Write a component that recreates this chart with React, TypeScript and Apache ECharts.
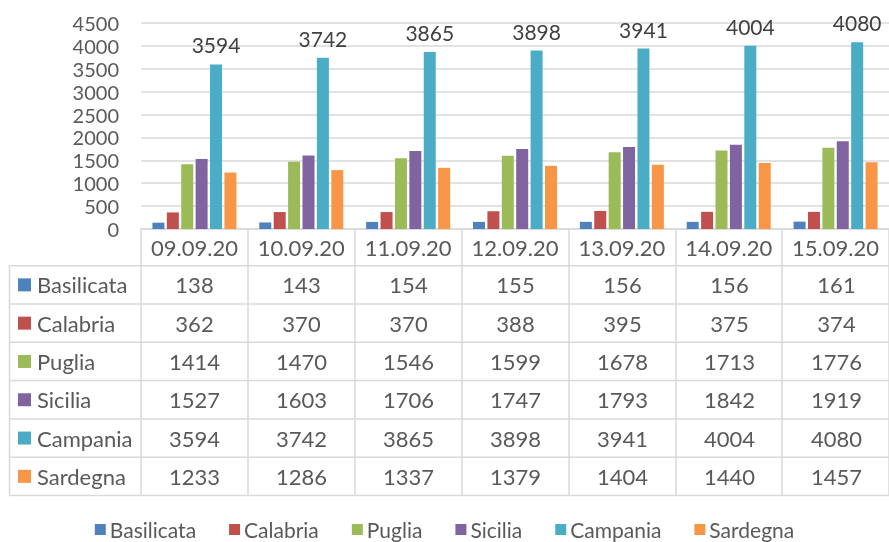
import React, { useEffect, useRef } from "react";
import * as echarts from "echarts";

const categories = ["09.09.20", "10.09.20", "11.09.20", "12.09.20", "13.09.20", "14.09.20", "15.09.20"];
const seriesNames = ["Basilicata", "Calabria", "Puglia", "Sicilia", "Campania", "Sardegna"];
const basilicata = [138, 143, 154, 155, 156, 156, 161];
const calabria = [362, 370, 370, 388, 395, 375, 374];
const puglia = [1414, 1470, 1546, 1599, 1678, 1713, 1776];
const sicilia = [1527, 1603, 1706, 1747, 1793, 1842, 1919];
const campania = [3594, 3742, 3865, 3898, 3941, 4004, 4080];
const sardegna = [1233, 1286, 1337, 1379, 1404, 1440, 1457];
const colors = ["#4F81BD", "#C0504D", "#9BBB59", "#8064A2", "#4BACC6", "#F79646"];
const yMax = 4500;
const yInterval = 500;

const allSeries = [basilicata, calabria, puglia, sicilia, campania, sardegna];

const FONT = "Lato";
const FS = 21;
const GRID_LEFT = 141;
const GRID_TOP = 23;
const GRID_W = 749;
const GRID_H = 206;
const AXIS_Y = GRID_TOP + GRID_H;
const HEADER_BOTTOM = 265.7;
const ROW_H = 38.3;
const TABLE_LEFT = 9.5;
const LINE_COLOR = "#D9D9D9";
const TEXT_COLOR = "#595959";

export default function App() {
  const ref = useRef<HTMLDivElement>(null);
  useEffect(() => {
    if (!ref.current) return;
    const chart = echarts.init(ref.current, null, { renderer: "svg" });
    const catW = GRID_W / categories.length;
    const tableRight = GRID_LEFT + GRID_W;
    const tableBottom = HEADER_BOTTOM + ROW_H * seriesNames.length;

    const graphics: any[] = [];
    for (let r = 0; r <= seriesNames.length; r++) {
      const y = HEADER_BOTTOM + r * ROW_H;
      graphics.push({
        type: "line",
        shape: { x1: TABLE_LEFT, y1: y, x2: tableRight, y2: y },
        style: { stroke: LINE_COLOR, lineWidth: 1.5 },
      });
    }
    graphics.push({
      type: "line",
      shape: { x1: TABLE_LEFT, y1: HEADER_BOTTOM, x2: TABLE_LEFT, y2: tableBottom },
      style: { stroke: LINE_COLOR, lineWidth: 1.5 },
    });
    seriesNames.forEach((name, r) => {
      const cy = HEADER_BOTTOM + r * ROW_H + ROW_H / 2;
      graphics.push({
        type: "rect",
        shape: { x: 18, y: cy - 6.5, width: 13, height: 13 },
        style: { fill: colors[r] },
      });
      graphics.push({
        type: "text",
        x: 37,
        y: cy,
        style: { text: name, fill: TEXT_COLOR, font: `22px ${FONT}`, textVerticalAlign: "middle", textAlign: "left" },
      });
      allSeries[r].forEach((v, i) => {
        graphics.push({
          type: "text",
          x: GRID_LEFT + catW * (i + 0.5),
          y: cy,
          style: { text: String(v), fill: TEXT_COLOR, font: `22px ${FONT}`, textVerticalAlign: "middle", textAlign: "center" },
        });
      });
    });

    chart.setOption({
      animation: false,
      textStyle: { fontFamily: FONT },
      grid: { left: GRID_LEFT, top: GRID_TOP, width: GRID_W, height: GRID_H, containLabel: false },
      xAxis: {
        type: "category",
        data: categories,
        axisLine: { show: true, lineStyle: { color: LINE_COLOR, width: 1.5 } },
        axisTick: { show: true, interval: 0, length: tableBottom - AXIS_Y, lineStyle: { color: LINE_COLOR, width: 1.5 } },
        axisLabel: { color: TEXT_COLOR, fontSize: 22, margin: 7, interval: 0, fontFamily: FONT },
      },
      yAxis: {
        type: "value",
        min: 0,
        max: yMax,
        interval: yInterval,
        axisLine: { show: false },
        axisTick: { show: false },
        axisLabel: { color: TEXT_COLOR, fontSize: 20, lineHeight: 20, margin: 22, fontFamily: FONT, formatter: (v: number) => String(v) },
        splitLine: { lineStyle: { color: LINE_COLOR, width: 1.5 } },
      },
      legend: {
        top: 514,
        left: "center",
        icon: "rect",
        itemWidth: 11,
        itemHeight: 11,
        itemGap: 33,
        textStyle: { color: TEXT_COLOR, fontSize: FS, fontFamily: FONT, padding: [0, 0, 0, -1] },
        data: seriesNames,
      },
      series: seriesNames.map((name, idx) => ({
        name,
        type: "bar",
        data: allSeries[idx],
        barWidth: 12,
        barGap: "20%",
        itemStyle: { color: colors[idx] },
        label: idx === 4
          ? { show: true, position: "top", distance: 9, fontSize: 21, color: "#404040", fontFamily: FONT }
          : { show: false },
      })),
      graphic: graphics,
    });
    return () => chart.dispose();
  }, []);
  return <div ref={ref} style={{ position: "fixed", left: 0, top: 0, width: 889, height: 542 }} />;
}
